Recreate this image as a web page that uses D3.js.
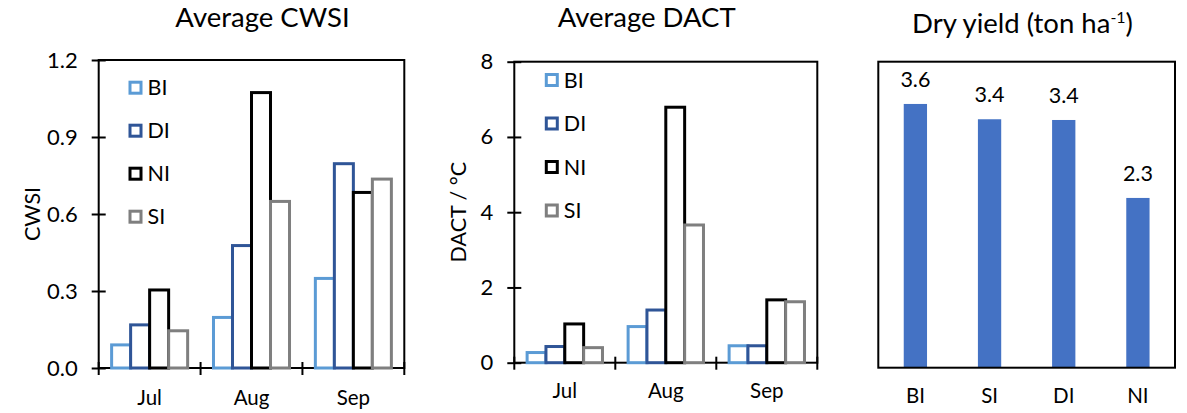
<!DOCTYPE html>
<html>
<head>
<meta charset="utf-8">
<script src="https://cdn.jsdelivr.net/npm/d3@7"></script>
<style>
body { margin: 0; background: #fff; }
text { font-family: Lato, "Open Sans", sans-serif; fill: #000; }
</style>
</head>
<body>
<script>
// categories
var months = ["Jul", "Aug", "Sep"];
var treatments = ["BI", "DI", "NI", "SI"];
var treatmentColors = ["#5B9BD5", "#2F5597", "#000000", "#7F7F7F"];

// Average CWSI per month
var cwsiBI = [0.09, 0.197, 0.349];
var cwsiDI = [0.168, 0.477, 0.796];
var cwsiNI = [0.304, 1.073, 0.684];
var cwsiSI = [0.145, 0.649, 0.736];
var cwsiTicks = [0, 0.3, 0.6, 0.9, 1.2];

// Average DACT per month (°C)
var dactBI = [0.27, 0.96, 0.45];
var dactDI = [0.43, 1.40, 0.45];
var dactNI = [1.03, 6.79, 1.67];
var dactSI = [0.40, 3.66, 1.62];
var dactTicks = [0, 2, 4, 6, 8];

// Dry yield (ton ha-1)
var yieldCats = ["BI", "SI", "DI", "NI"];
var yieldValues = [3.62, 3.41, 3.40, 2.33];

var width = 1187;
var height = 413;

var svg = d3.select("body").append("svg")
            .attr("width", width)
            .attr("height", height);

function groupedPanel(p) {
    var x = d3.scaleBand().domain(months).range([p.left, p.right]).padding(0);
    var xs = d3.scaleBand().domain(treatments).range([0, x.bandwidth()])
                .paddingInner(0).paddingOuter(0.68);
    var y = d3.scaleLinear().domain([0, p.yMax]).range([p.bottom, p.top]);

    // y axis with ticks crossing the axis line
    var ya = svg.append("g")
                .attr("transform", "translate(" + p.left + ",0)")
                .call(d3.axisLeft(y).tickValues(p.ticks).tickFormat(p.format)
                        .tickSizeInner(7).tickSizeOuter(0).tickPadding(14));
    ya.select(".domain").remove();
    ya.selectAll(".tick line").attr("x1", 7).attr("stroke", "#000").attr("stroke-width", 2);
    ya.selectAll(".tick text").style("font-size", "22px");

    // frame
    svg.append("rect")
        .attr("x", p.left).attr("y", p.top)
        .attr("width", p.right - p.left).attr("height", p.bottom - p.top)
        .attr("fill", "none").attr("stroke", "#000").attr("stroke-width", 2);

    // x labels
    var xa = svg.append("g")
                .attr("transform", "translate(0," + p.bottom + ")")
                .call(d3.axisBottom(x).tickSize(0).tickPadding(p.xPad));
    xa.select(".domain").remove();
    xa.selectAll(".tick text").style("font-size", "20.5px");

    // category boundary ticks
    var bounds = months.map(m => x(m)).concat([x.range()[1]]);
    svg.append("g").selectAll("line")
        .data(bounds).enter().append("line")
        .attr("x1", d => d).attr("x2", d => d)
        .attr("y1", p.bottom - 6).attr("y2", p.bottom + 7)
        .attr("stroke", "#000").attr("stroke-width", 2);

    // outlined bars
    treatments.forEach(function(t, i) {
        svg.append("g").selectAll("rect")
            .data(p.series[i]).enter().append("rect")
            .attr("x", (d, j) => x(months[j]) + xs(t))
            .attr("y", d => y(d))
            .attr("width", xs.bandwidth())
            .attr("height", d => p.bottom - y(d))
            .attr("fill", "#fff")
            .attr("stroke", treatmentColors[i])
            .attr("stroke-width", 3);
    });

    // legend
    var lg = svg.append("g");
    treatments.forEach(function(t, i) {
        var cy = p.legendY + i * p.legendStep;
        lg.append("rect")
            .attr("x", p.legendX - 5.5).attr("y", cy - 5.5)
            .attr("width", 11).attr("height", 11)
            .attr("fill", "#fff").attr("stroke", treatmentColors[i]).attr("stroke-width", 3);
        lg.append("text")
            .attr("x", p.legendX + 12).attr("y", cy).attr("dy", "0.36em")
            .style("font-size", "21.5px")
            .text(t);
    });

    // titles
    svg.append("text")
        .attr("x", p.titleX).attr("y", 27)
        .attr("text-anchor", "middle").style("font-size", "27.5px")
        .text(p.title);
    svg.append("text")
        .attr("transform", "translate(" + p.yLabelX + "," + ((p.top + p.bottom) / 2) + ") rotate(-90)")
        .attr("text-anchor", "middle").attr("dy", "0.36em")
        .style("font-size", "21.5px")
        .text(p.yLabel);
}

groupedPanel({
    left: 98.7, right: 404.3, top: 60, bottom: 368,
    yMax: 1.2, ticks: cwsiTicks, format: d3.format(".1f"),
    series: [cwsiBI, cwsiDI, cwsiNI, cwsiSI],
    xPad: 22,
    legendX: 135.5, legendY: 87.7, legendStep: 43,
    title: "Average CWSI", titleX: 262.5,
    yLabel: "CWSI", yLabelX: 32
});

groupedPanel({
    left: 514.3, right: 817.3, top: 61.7, bottom: 362.7,
    yMax: 8, ticks: dactTicks, format: d3.format("d"),
    series: [dactBI, dactDI, dactNI, dactSI],
    xPad: 21,
    legendX: 551.8, legendY: 80, legendStep: 43.5,
    title: "Average DACT", titleX: 646.7,
    yLabel: "DACT / °C", yLabelX: 458
});

// Dry yield panel
var p3 = { left: 878.3, right: 1175, top: 61.7, bottom: 367.7 };
var x3 = d3.scaleBand().domain(yieldCats).range([p3.left, p3.right])
            .paddingInner(0.686).paddingOuter(0.343);
var y3 = d3.scaleLinear().domain([0, 4.2]).range([p3.bottom, p3.top]);

svg.append("g").selectAll("rect")
    .data(yieldValues).enter().append("rect")
    .attr("x", (d, i) => x3(yieldCats[i]))
    .attr("y", d => y3(d))
    .attr("width", x3.bandwidth())
    .attr("height", d => p3.bottom - y3(d))
    .attr("fill", "#4472C4");

svg.append("g").selectAll("text")
    .data(yieldValues).enter().append("text")
    .attr("x", (d, i) => x3(yieldCats[i]) + x3.bandwidth() / 2)
    .attr("y", d => y3(d) - 17)
    .attr("text-anchor", "middle")
    .style("font-size", "21.5px")
    .text(d => d.toFixed(1));

svg.append("rect")
    .attr("x", p3.left).attr("y", p3.top)
    .attr("width", p3.right - p3.left).attr("height", p3.bottom - p3.top)
    .attr("fill", "none").attr("stroke", "#000").attr("stroke-width", 2);

var xa3 = svg.append("g")
            .attr("transform", "translate(0," + p3.bottom + ")")
            .call(d3.axisBottom(x3).tickSize(0).tickPadding(21));
xa3.select(".domain").remove();
xa3.selectAll(".tick text").style("font-size", "20.5px");

var t3 = svg.append("text")
            .attr("x", 1022.5).attr("y", 33)
            .attr("text-anchor", "middle")
            .style("font-size", "27.5px");
t3.append("tspan").text("Dry yield (ton ha");
t3.append("tspan").attr("dy", -10).style("font-size", "16px").text("-1");
t3.append("tspan").attr("dy", 10).text(")");
</script>
</body>
</html>
